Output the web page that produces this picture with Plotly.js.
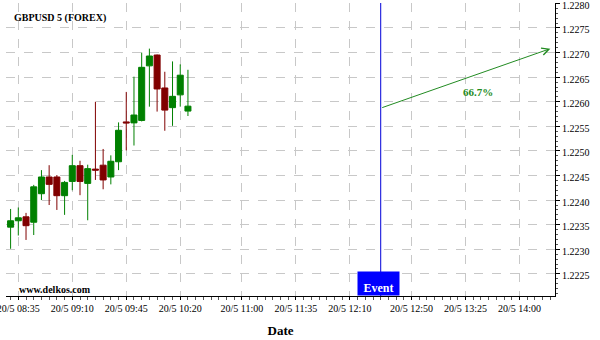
<!DOCTYPE html>
<html>
<head>
<meta charset="utf-8">
<script src="https://cdn.plot.ly/plotly-3.0.1.min.js"></script>
<style>
html,body{margin:0;padding:0;background:#fff;}
#chart{width:600px;height:340px;}
</style>
</head>
<body>
<div id="chart"></div>
<script>
// ---- data ----
var day = '2020-05-20 ';
var times = ['08:30','08:35','08:40','08:45','08:50','08:55','09:00','09:05','09:10','09:15','09:20','09:25',
             '09:30','09:35','09:40','09:45','09:50','09:55','10:00','10:05','10:10','10:15','10:20','10:25'];
var openVals  = [1.22345,1.22358,1.22366,1.22355,1.22413,1.22447,1.22447,1.22409,1.22438,1.22470,1.22434,1.22463,
                 1.22471,1.22447,1.22478,1.22559,1.22557,1.22562,1.22673,1.22695,1.22628,1.22588,1.22614,1.22581];
var highVals  = [1.22382,1.22385,1.22374,1.22431,1.22461,1.22471,1.22451,1.22439,1.22492,1.22480,1.22472,1.22600,
                 1.22504,1.22491,1.22558,1.22620,1.22651,1.22700,1.22708,1.22696,1.22661,1.22682,1.22676,1.22665];
var lowVals   = [1.22301,1.22328,1.22319,1.22329,1.22400,1.22390,1.22380,1.22370,1.22420,1.22410,1.22359,1.22441,
                 1.22422,1.22432,1.22461,1.22501,1.22511,1.22560,1.22590,1.22580,1.22541,1.22551,1.22590,1.22571];
var closeVals = [1.22358,1.22364,1.22348,1.22427,1.22447,1.22432,1.22409,1.22436,1.22470,1.22438,1.22464,1.22461,
                 1.22441,1.22479,1.22542,1.22557,1.22573,1.22670,1.22693,1.22626,1.22583,1.22611,1.22654,1.22591];
var tickTimes  = ['08:35','09:10','09:45','10:20','11:00','11:35','12:10','12:50','13:25','14:00'];
var tickLabels = ['20/5 08:35','20/5 09:10','20/5 09:45','20/5 10:20','20/5 11:00','20/5 11:35','20/5 12:10','20/5 12:50','20/5 13:25','20/5 14:00'];
var eventTime = '12:30';
var forecastEndTime = '14:20';
var forecastStart = 1.22587;
var forecastEnd = 1.22708;
var forecastLabel = '66.7%';
var chartTitle = 'GBPUSD 5 (FOREX)';
var siteLabel = 'www.delkos.com';
var eventLabel = 'Event';
var xTitle = 'Date';

// ---- chart ----
var serif = "'Liberation Serif', 'Times New Roman', serif";
var x = times.map(function(t){return day + t;});
var trace = {
  type: 'candlestick',
  x: x, open: openVals, high: highVals, low: lowVals, close: closeVals,
  increasing: {line: {color: '#008000', width: 1}, fillcolor: '#008000'},
  decreasing: {line: {color: '#800000', width: 1}, fillcolor: '#800000'},
  whiskerwidth: 0,
  hoverinfo: 'skip',
  showlegend: false
};

var layout = {
  width: 600, height: 340,
  margin: {l: 6, r: 45, t: 3, b: 44},
  paper_bgcolor: '#fff', plot_bgcolor: '#fff',
  font: {family: serif, size: 10, color: '#000'},
  showlegend: false,
  boxgap: 0.22, boxgroupgap: 0,
  xaxis: {
    type: 'date',
    range: [day + '08:27:01', day + '14:23:01'],
    rangeslider: {visible: false},
    tickmode: 'array',
    tickvals: tickTimes.map(function(t){return day + t;}),
    ticktext: tickLabels,
    ticklabeloverflow: 'allow',
    ticks: 'outside', ticklen: 3, tickcolor: '#000', tickwidth: 1,
    minor: {dtick: 300000, ticks: 'outside', ticklen: 3, tickcolor: '#555', showgrid: false},
    showgrid: true, gridcolor: '#c8c8c8', griddash: 'dash', gridwidth: 1,
    showline: true, linecolor: '#000', linewidth: 1,
    zeroline: false,
    tickfont: {family: serif, size: 10, color: '#000'},
    title: {text: xTitle, font: {family: serif, size: 13, color: '#000', weight: 'bold'}, standoff: 12},
    fixedrange: true
  },
  yaxis: {
    side: 'right',
    range: [1.22205, 1.228008],
    dtick: 0.0005, tick0: 1.2225,
    tickformat: '.4f',
    ticklabeloverflow: 'allow',
    ticklabelshift: 2,
    ticks: 'outside', ticklen: 4, tickcolor: '#000', tickwidth: 1,
    minor: {dtick: 0.0001, ticks: 'outside', ticklen: 2, tickcolor: '#555', showgrid: false},
    showgrid: true, gridcolor: '#c8c8c8', griddash: 'dash', gridwidth: 1,
    showline: true, linecolor: '#000', linewidth: 1,
    zeroline: false,
    tickfont: {family: serif, size: 10, color: '#000'},
    fixedrange: true
  },
  shapes: [
    {type: 'line', xref: 'x', yref: 'paper', x0: day + eventTime, x1: day + eventTime, y0: 0, y1: 1,
     line: {color: '#0000d8', width: 1}}
  ],
  annotations: [
    {xref: 'paper', yref: 'paper', x: 0.011, y: 0.949, xanchor: 'left', yanchor: 'middle', showarrow: false,
     text: '<b>' + chartTitle + '</b>', font: {family: serif, size: 10, color: '#000'}},
    {xref: 'paper', yref: 'paper', x: 0.0195, y: 0.0205, xanchor: 'left', yanchor: 'middle', showarrow: false,
     text: '<b>' + siteLabel + '</b>', font: {family: serif, size: 10, color: '#000'}},
    {xref: 'x', yref: 'paper', x: day + eventTime, y: 0, xanchor: 'center', yanchor: 'bottom', showarrow: false,
     xshift: -2,
     text: '<b>' + eventLabel + '</b>', font: {family: serif, size: 12, color: '#fff'},
     bgcolor: '#0000ff', width: 41, height: 23, borderpad: 0, valign: 'bottom'},
    {xref: 'x', yref: 'y', x: day + forecastEndTime, y: forecastEnd,
     axref: 'x', ayref: 'y', ax: day + eventTime, ay: forecastStart,
     showarrow: true, arrowhead: 5, arrowsize: 1.4, arrowwidth: 1, arrowcolor: '#228b22', text: ''},
    {xref: 'x', yref: 'y', x: day + '13:33', y: 1.22619, xanchor: 'center', yanchor: 'middle', showarrow: false,
     text: '<b>' + forecastLabel + '</b>', font: {family: serif, size: 11, color: '#228b22'}}
  ]
};

Plotly.newPlot('chart', [trace], layout, {staticPlot: true, displayModeBar: false});
</script>
</body>
</html>
